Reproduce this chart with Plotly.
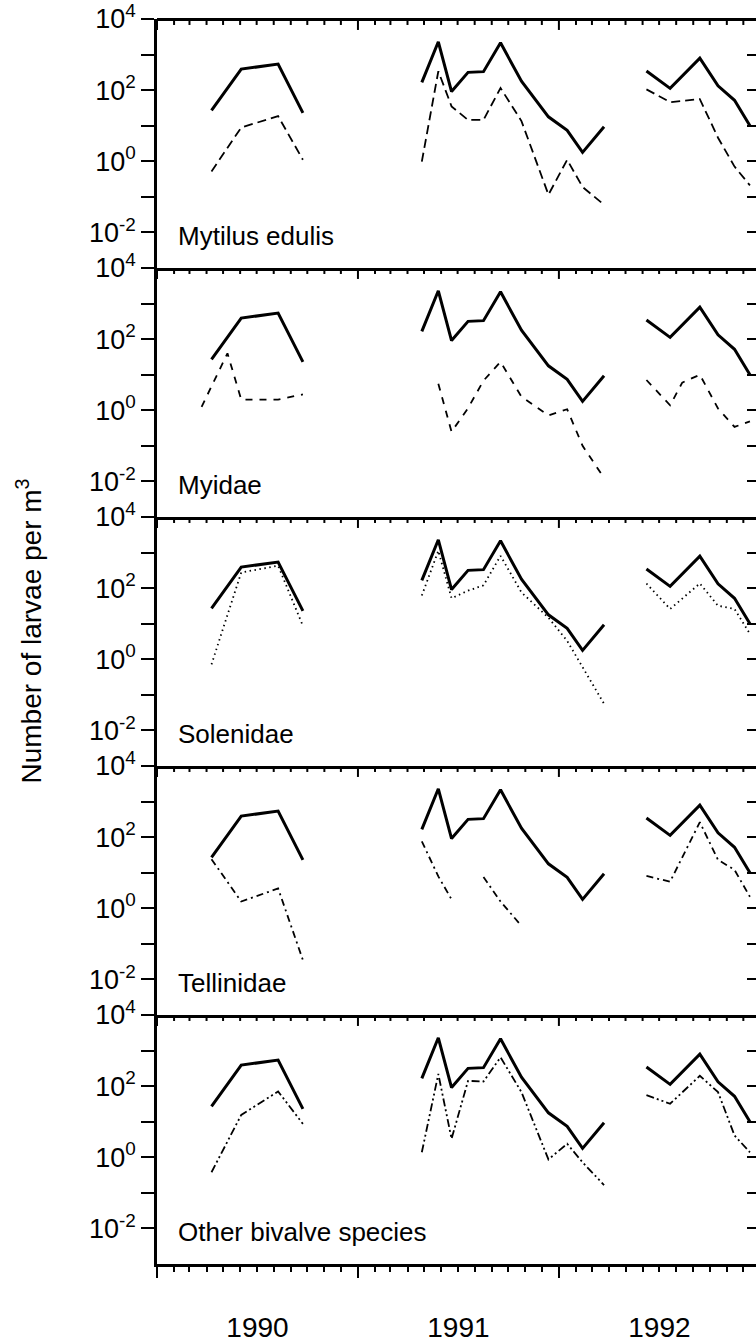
import plotly.graph_objects as go

# ---------------- data ----------------
dates = ["1990-04-10", "1990-06-03", "1990-08-09", "1990-09-23", "1991-01-01",
         "1991-04-27", "1991-05-27", "1991-06-20", "1991-07-20", "1991-08-17",
         "1991-09-17", "1991-10-25", "1991-12-13", "1992-01-16", "1992-02-13",
         "1992-03-23", "1992-05-01",
         "1992-06-08", "1992-07-21", "1992-09-13", "1992-10-16", "1992-11-15",
         "1992-12-13"]

total = [27, 390, 540, 23, None,
         166, 2290, 91, 316, 331, 2140, 178, 17.8, 7.4, 1.78, 9.3, None,
         347, 112, 794, 132, 52, 10]

mytilus = [0.52, 8.9, 18.6, 1.1, None,
           0.98, 340, 35, 14.5, 14.5, 115, 13.5, 0.115, 1.1, 0.19, 0.06, None,
           105, 46, 56, 4.6, 0.71, 0.21]

solenidae = [0.72, 275, 427, 8.7, None,
             62, 1120, 52, 85, 120, 810, 76, 14.8, 3.3, 0.59, 0.056, None,
             135, 26, 135, 32, 26, 5.2]

tellinidae = [24, 1.55, 3.6, 0.035, None,
              76, 7.9, 1.78, None, 7.6, 1.55, 0.32, None, None, None, None, None,
              8.1, 5.6, 263, 23, 12, 2.1]

other = [0.38, 15.5, 71, 8.7, None,
         1.38, 219, 3.3, 141, 135, 646, 68, 0.87, 2.4, 0.72, 0.166, None,
         56, 32, 195, 68, 4.1, 1.38]

myidae_dates = ["1990-03-23", "1990-05-09", "1990-06-03", "1990-08-09", "1990-09-23",
                "1991-01-01",
                "1991-05-27", "1991-06-20", "1991-07-20", "1991-08-17", "1991-09-17",
                "1991-10-25", "1991-12-13", "1992-01-16", "1992-02-13", "1992-03-23",
                "1992-05-01",
                "1992-06-08", "1992-07-21", "1992-08-12", "1992-09-13", "1992-10-16",
                "1992-11-15", "1992-12-13"]
myidae = [1.25, 40, 2.0, 2.0, 2.8, None,
          5.6, 0.25, 1.15, 6.8, 23, 2.4, 0.72, 1.07, 0.10, 0.0126, None,
          7.1, 1.38, 6.0, 10, 1.12, 0.34, 0.49]

years = [1990, 1991, 1992]
panel_names = ["Mytilus edulis", "Myidae", "Solenidae", "Tellinidae",
               "Other bivalve species"]
panel_x = [dates, myidae_dates, dates, dates, dates]
panel_y = [mytilus, myidae, solenidae, tellinidae, other]
panel_dash = ["9px,5px", "7px,7px", "1.5px,3.5px", "7px,4px,2px,4px",
              "8px,3px,2px,3px,2px,3px"]

y_tickvals = [1e4, 1e3, 1e2, 1e1, 1e0, 1e-1, 1e-2]
y_ticktext = ["10<sup>4</sup>", "", "10<sup>2</sup>", "", "10<sup>0</sup>", "",
              "10<sup>-2</sup>"]
x_range = ["1990-01-01", "1992-12-24"]
y_range = [-3, 4]

FONT = "Liberation Sans, Arial, Helvetica, sans-serif"
n = len(panel_names)
FIG_H, M_TOP, M_BOT = 1343, 18, 74
panel_px = (FIG_H - M_TOP - M_BOT) / n


def ax_id(letter, k):
    return letter if k == 1 else f"{letter}{k}"


def ax_name(letter, k):
    return f"{letter}axis" if k == 1 else f"{letter}axis{k}"


TOP_X = n + 1  # extra x axis drawn along the very top edge

fig = go.Figure()
for i in range(n):
    k = i + 1
    fig.add_trace(go.Scatter(x=dates, y=total, mode="lines",
                             xaxis=ax_id("x", k), yaxis=ax_id("y", k),
                             line=dict(color="black", width=3), connectgaps=False,
                             showlegend=False, hoverinfo="skip"))
    sp_x = ax_id("x", TOP_X) if k == 1 else ax_id("x", k)
    fig.add_trace(go.Scatter(x=panel_x[i], y=panel_y[i], mode="lines",
                             xaxis=sp_x, yaxis=ax_id("y", n + k),
                             line=dict(color="black", width=1.8, dash=panel_dash[i]),
                             connectgaps=False, showlegend=False, hoverinfo="skip"))

layout = dict(width=756, height=FIG_H,
              margin=dict(l=157, r=0, t=M_TOP, b=M_BOT),
              plot_bgcolor="rgba(0,0,0,0)", paper_bgcolor="white",
              font=dict(family=FONT, color="black"),
              showlegend=False)

ph = 1.0 / n
for i in range(n):
    k = i + 1
    dom = [1 - k * ph, 1 - i * ph]
    last = (k == n)
    if last:
        layout[ax_name("x", k)] = dict(
            type="date", range=x_range, autorange=False,
            anchor=ax_id("y", k), side="bottom", domain=[0, 1],
            showline=True, linewidth=2.5, linecolor="black",
            ticks="outside", ticklen=11, tickwidth=2, tickcolor="black",
            dtick="M12", tick0="1990-01-01", tickformat="%Y",
            ticklabelmode="period", ticklabelstandoff=26,
            showticklabels=True, tickfont=dict(size=28, family=FONT),
            showgrid=False, zeroline=False,
            minor=dict(dtick="M1", tick0="1990-01-01", ticks="outside",
                       ticklen=5, tickwidth=1.5, tickcolor="black",
                       showgrid=False))
    else:
        layout[ax_name("x", k)] = dict(
            type="date", range=x_range, autorange=False,
            anchor=ax_id("y", k), side="bottom", domain=[0, 1],
            showline=True, linewidth=2.5, linecolor="black", ticks="",
            showticklabels=False, showgrid=False, zeroline=False)
    layout[ax_name("y", k)] = dict(
        type="log", range=y_range, autorange=False,
        domain=dom, anchor=ax_id("x", k), side="left",
        showline=True, linewidth=2.5, linecolor="black",
        ticks="outside", ticklen=13, tickwidth=2, tickcolor="black",
        tickmode="array", tickvals=y_tickvals, ticktext=y_ticktext,
        tickfont=dict(size=27, family=FONT),
        showgrid=False, zeroline=False)
    layout[ax_name("y", n + k)] = dict(
        type="log", range=y_range, autorange=False,
        overlaying=ax_id("y", k), anchor=ax_id("x", k), side="right",
        showline=False, ticks="inside", ticklen=9, tickwidth=2, tickcolor="black",
        tickmode="array", tickvals=y_tickvals, showticklabels=False,
        showgrid=False, zeroline=False)

# top edge line of the first panel
layout[ax_name("x", TOP_X)] = dict(
    type="date", range=x_range, autorange=False,
    overlaying="x", anchor="free", position=1.0, side="top",
    showline=True, linewidth=2.5, linecolor="black", ticks="",
    showticklabels=False, showgrid=False, zeroline=False)

# inward month / year ticks along the top edge of every panel
shapes = []
for i in range(n):
    k = i + 1
    for y in years:
        for m in range(1, 13):
            tick_len = 11 if m == 1 else 6
            shapes.append(dict(type="line", xref=ax_id("x", k),
                               yref=ax_id("y", k) + " domain",
                               x0=f"{y}-{m:02d}-01", x1=f"{y}-{m:02d}-01",
                               y0=1, y1=1 - tick_len / panel_px,
                               line=dict(color="black", width=2),
                               layer="above"))
layout["shapes"] = shapes

annotations = []
for i in range(n):
    k = i + 1
    annotations.append(dict(text=panel_names[i], xref=ax_id("x", k) + " domain",
                            yref=ax_id("y", k) + " domain", x=0, y=0,
                            xanchor="left", yanchor="bottom", xshift=19, yshift=15,
                            showarrow=False, font=dict(size=26, family=FONT)))
annotations.append(dict(text="Number of larvae per m<sup>3</sup>", xref="paper",
                        yref="paper", x=0, y=0.5, xanchor="center", yanchor="middle",
                        xshift=-128, yshift=10, textangle=-90, showarrow=False,
                        font=dict(size=28, family=FONT)))
layout["annotations"] = annotations

fig.update_layout(**layout)
fig.write_html("out.html")
